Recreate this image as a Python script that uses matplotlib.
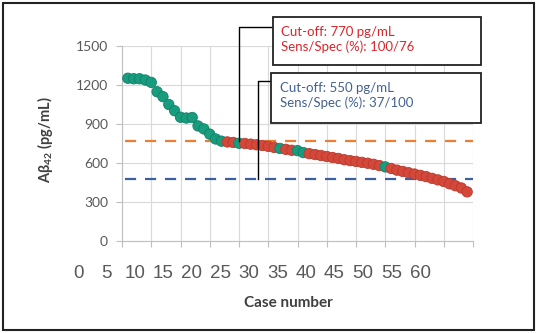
import numpy as np
import matplotlib
matplotlib.use("Agg")
import matplotlib.pyplot as plt
from matplotlib.patches import Rectangle
from matplotlib.transforms import ScaledTranslation

# A-beta 42 per case, sorted high -> low
values = [1252, 1248, 1248, 1238, 1220, 1148, 1110, 1050, 1002, 952,
          946, 950, 885, 862, 822, 785, 768, 762, 758, 752,
          750, 745, 740, 735, 728, 720, 712, 705, 698, 695,
          680, 672, 665, 658, 650, 642, 635, 625, 618, 612,
          605, 598, 590, 580, 570, 558, 545, 535, 525, 515,
          505, 495, 482, 470, 458, 440, 425, 408, 378]
cases = list(range(1, len(values) + 1))
green_cases = list(range(1, 18)) + [20, 27, 30, 31, 45]

cutoff_red = [770, 770]
cutoff_blue = [480, 480]
cutoff_x = [0.5, 60]

xtick_vals = list(range(0, 65, 5))
ytick_vals = [0, 300, 600, 900, 1200, 1500]

green = "#179c7d"
red = "#d4483a"
orange = "#ed7d31"
blue = "#3d5f9e"
grey = "#595959"

W, H = 539, 333
fig = plt.figure(figsize=(W / 100, H / 100), dpi=100)
ax = fig.add_axes([122 / W, 1 - 241 / H, (473 - 122) / W, (241 - 46) / H])

ax.plot(cutoff_x, cutoff_red, color=orange, lw=1.6, dashes=(5, 4), zorder=2)
ax.plot(cutoff_x, cutoff_blue, color=blue, lw=1.6, dashes=(5, 4), zorder=2)

cols = [green if c in green_cases else red for c in cases]
edges = ["#12806a" if c in green_cases else "#b83a2e" for c in cases]
ax.scatter(cases, values, s=56, c=cols, edgecolors=edges, linewidths=0.6, zorder=3)

ax.set_xlim(0, 60)
ax.set_ylim(0, 1500)
ax.set_xticks(xtick_vals)
ax.set_xticklabels([])
ax.set_yticks(ytick_vals)
ax.set_yticklabels([str(v) for v in ytick_vals], fontsize=10, color=grey, family="Lato")
ax.grid(True, color="#d9d9d9", lw=0.8)
ax.set_axisbelow(True)
for s in ["top", "right"]:
    ax.spines[s].set_visible(False)
for s in ["left", "bottom"]:
    ax.spines[s].set_color("#bfbfbf")
ax.tick_params(axis="both", direction="out", length=4, color="#bfbfbf")
ax.tick_params(axis="y", pad=6)

# x tick labels sit offset to the left of their ticks in the original
for i, v in enumerate(xtick_vals):
    dx = (-44 - 9 * i / 12) / 100
    tr = ax.get_xaxis_transform() + ScaledTranslation(dx, -32 / 100, fig.dpi_scale_trans)
    ax.text(v, 0, str(v), transform=tr, ha="center", va="center",
            fontsize=13.5, color=grey, family="Liberation Sans", clip_on=False)

fig.text(288 / W, 1 - 303 / H, "Case number", ha="center", va="center",
         fontsize=11, fontweight="bold", color="#404040", family="Lato")
fig.text(45 / W, 1 - 140 / H, r"A$\mathregular{\beta_{42}}$ (pg/mL)", ha="center", va="center",
         rotation=90, fontsize=10.5, fontweight="bold", color="#404040", family="Lato")

# callout leaders
ax.plot([20, 20, 25.8], [770, 1646, 1646], color="black", lw=1, clip_on=False, zorder=4)
ax.plot([23.2, 23.2, 25.4], [480, 1231, 1231], color="black", lw=1, clip_on=False, zorder=4)

# callout boxes
fig.add_artist(Rectangle((273 / W, 1 - 65 / H), 208 / W, 48 / H, transform=fig.transFigure,
                         facecolor="white", edgecolor="#222222", lw=1.3, zorder=5))
fig.add_artist(Rectangle((271 / W, 1 - 123 / H), 210 / W, 50 / H, transform=fig.transFigure,
                         facecolor="white", edgecolor="#222222", lw=1.3, zorder=5))
fig.text(281 / W, 1 - 32 / H, "Cut-off: 770 pg/mL", color="#d9262b", fontsize=9.5,
         family="Lato", va="center", zorder=6)
fig.text(281 / W, 1 - 47 / H, "Sens/Spec (%): 100/76", color="#d9262b", fontsize=9.5,
         family="Lato", va="center", zorder=6)
fig.text(280 / W, 1 - 88 / H, "Cut-off: 550 pg/mL", color="#44618f", fontsize=9.5,
         family="Lato", va="center", zorder=6)
fig.text(280 / W, 1 - 103 / H, "Sens/Spec (%): 37/100", color="#44618f", fontsize=9.5,
         family="Lato", va="center", zorder=6)

# outer chart border
fig.add_artist(Rectangle((2.5 / W, 3 / H), (534 - 2.5) / W, (330 - 3) / H, transform=fig.transFigure,
                         facecolor="none", edgecolor="#222222", lw=1.5, zorder=7))

fig.savefig("out.png", dpi=100)
